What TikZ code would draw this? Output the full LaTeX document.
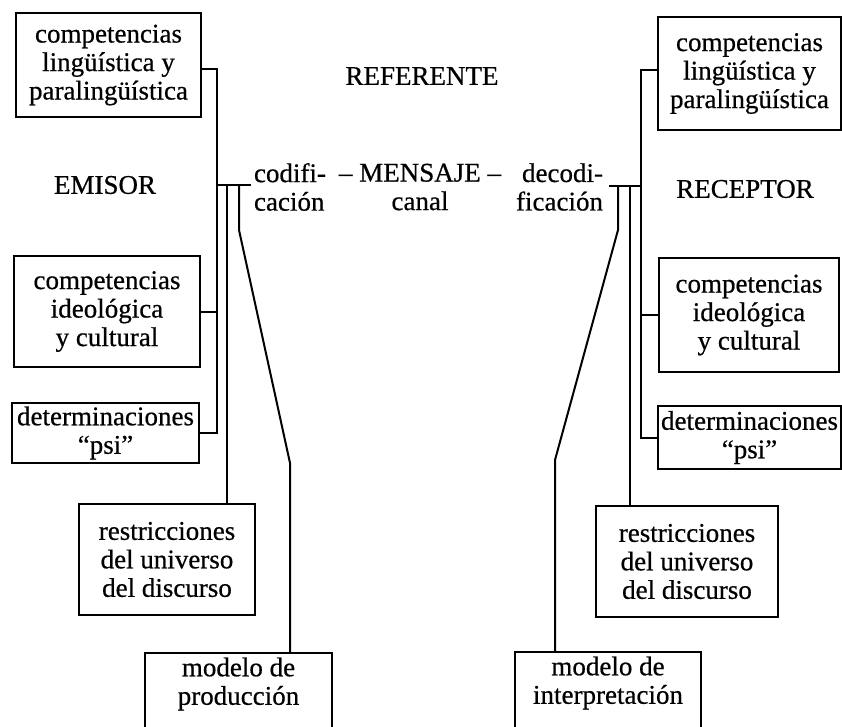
\documentclass[tikz,border=0pt]{standalone}
\usepackage{fontspec}
\setmainfont{Liberation Serif}[FakeBold=0.6]
\begin{document}
\begin{tikzpicture}[x=1pt,y=-1pt,line width=2pt,
  txt/.style={font=\fontsize{27}{28.5}\selectfont},
  box/.style={txt,draw,line width=2pt,align=center,inner sep=0pt,anchor=north west},
  openbox/.style={txt,align=center,inner sep=0pt,anchor=north west},
  lbl/.style={txt,inner sep=0pt}]
\useasboundingbox (0,0) rectangle (842,726);
\clip (0,0) rectangle (842,726);

% left column
\node[box,minimum width=185,minimum height=104] (L1) at (15,12) {competencias\\lingüística y\\paralingüística};
\node[box,minimum width=186,minimum height=111] (L2) at (13,255) {competencias\\ideológica\\y cultural};
\node[box,minimum width=187,minimum height=60] (PL) at (11,402) {determinaciones\\“psi”};
\node[box,minimum width=176,minimum height=111] (RL) at (78,503) {restricciones\\del universo\\del discurso};
\node[openbox,minimum width=185,minimum height=60] (ML) at (145,653) {modelo de\\producción};
\draw ([yshift=-30pt]ML.south west) -- (ML.north west) -- (ML.north east) -- ([yshift=-30pt]ML.south east);

% right column
\node[box,minimum width=183,minimum height=113] (R1) at (657,16) {competencias\\lingüística y\\paralingüística};
\node[box,minimum width=180,minimum height=114] (R2) at (658,257) {competencias\\ideológica\\y cultural};
\node[box,minimum width=183,minimum height=63] (PR) at (657,405) {determinaciones\\“psi”};
\node[box,minimum width=182,minimum height=111] (RR) at (595,505) {restricciones\\del universo\\del discurso};
\node[openbox,minimum width=184,minimum height=60] (MR) at (515,652) {modelo de\\interpretación};
\draw ([yshift=-30pt]MR.south west) -- (MR.north west) -- (MR.north east) -- ([yshift=-30pt]MR.south east);

% labels
\node[lbl] (ref) at (422,76) {REFERENTE};
\node[lbl] (emi) at (105,185) {EMISOR};
\node[lbl] (rec) at (745,189) {RECEPTOR};
\node[lbl,anchor=west,align=left] (cod) at (253,187) {codifi-\\cación};
\node[lbl,align=center] (men) at (420,187) {– MENSAJE –\\canal};
\node[lbl,anchor=east,align=right] (dec) at (604,187) {decodi-\\ficación};

% left connectors
\coordinate (xL) at (217,0);
\coordinate (bL) at (217,185);
\coordinate (bLe) at (251,185);
\coordinate (v2L) at (227,185);
\coordinate (v3L) at (239,185);
\coordinate (kL1) at (239,230);
\coordinate (kL2) at (290,463);
\draw ([yshift=-4pt]L1.east) -| (PL.east -| xL) -- (PL.east);
\draw (L2.east) -- (L2.east -| xL);
\draw (bL) -- (bLe);
\draw (v2L) -- (v2L |- RL.north);
\draw (v3L) -- (kL1) -- (kL2) -- (kL2 |- ML.north);

% right connectors
\coordinate (xR) at (641,0);
\coordinate (bR) at (641,186);
\coordinate (bRe) at (609,186);
\coordinate (v2R) at (630,186);
\coordinate (v3R) at (618,186);
\coordinate (kR1) at (618,230);
\coordinate (kR2) at (555,460);
\draw ([yshift=4pt]R1.west) -| (PR.west -| xR) -- (PR.west);
\draw (R2.west) -- (R2.west -| xR);
\draw (bR) -- (bRe);
\draw (v2R) -- (v2R |- RR.north);
\draw (v3R) -- (kR1) -- (kR2) -- (kR2 |- MR.north);
\end{tikzpicture}
\end{document}
